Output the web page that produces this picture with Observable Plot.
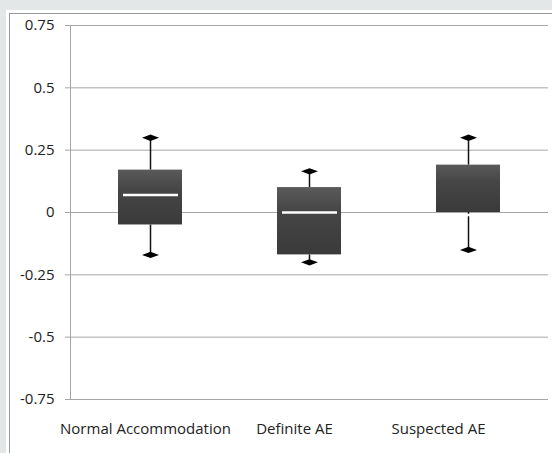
<!DOCTYPE html>
<html>
<head>
<meta charset="utf-8">
<script src="https://cdn.jsdelivr.net/npm/d3@7"></script>
<script src="https://cdn.jsdelivr.net/npm/@observablehq/plot@0.6"></script>
<style>
  html, body { margin: 0; padding: 0; background: #e3e7e7; width: 552px; height: 453px; overflow: hidden; }
  #outer { position: absolute; left: 6px; top: 10px; width: 546px; height: 443px; background: #ffffff; }
  #panel { position: absolute; left: 3px; top: 3px; width: 543px; height: 440px; border-left: 1px solid #9a9a9a; border-top: 1px solid #9a9a9a; box-sizing: border-box; background: #fff; }
  #panel svg { position: absolute; left: 0; top: 0; }
</style>
</head>
<body>
<div id="outer"><div id="panel"></div></div>
<script>
const categories = ["Normal Accommodation", "Definite AE", "Suspected AE"];
const whiskerMax = [0.30, 0.165, 0.30];
const q3 = [0.17, 0.10, 0.19];
const median = [0.07, 0.00, -0.01];
const q1 = [-0.05, -0.17, 0.00];
const whiskerMin = [-0.17, -0.20, -0.15];
const yTicks = [-0.75, -0.5, -0.25, 0, 0.25, 0.5, 0.75];
const labelShift = [-5, -15, -30];

const data = categories.map((c, i) => ({
  cat: c, max: whiskerMax[i], q3: q3[i], med: median[i], q1: q1[i], min: whiskerMin[i]
}));

const flatDiamond = {
  draw(context) {
    const w = 8.5, h = 3.2;
    context.moveTo(-w, 0);
    context.lineTo(0, -h);
    context.lineTo(w, 0);
    context.lineTo(0, h);
    context.closePath();
  }
};

const font = "'Open Sans', 'Noto Sans', sans-serif";

const chart = Plot.plot({
  width: 542,
  height: 440,
  marginTop: 11,
  marginBottom: 55,
  marginLeft: 60,
  marginRight: 4,
  style: { fontFamily: font, fontSize: "15px", color: "#222", background: "transparent" },
  x: { type: "band", domain: categories, paddingInner: 0.6, paddingOuter: 0.3, align: 0.5 },
  y: { domain: [-0.75, 0.75], ticks: yTicks },
  marks: [
    Plot.gridY(yTicks, { stroke: "#a6a6a6", strokeOpacity: 1, strokeWidth: 1, insetLeft: -5 }),
    Plot.frame({ anchor: "left", stroke: "#a6a6a6", strokeOpacity: 1, strokeWidth: 1 }),
    Plot.axisY(yTicks, { tickSize: 0, tickPadding: 16, tickFormat: d => String(d), fontSize: 15, fill: "#222" }),
    ...categories.map((c, i) => Plot.axisX({ ticks: [c], tickSize: 0, tickPadding: 24, dx: labelShift[i], fontSize: 15, fill: "#222", label: null })),
    Plot.ruleX(data, { x: "cat", y1: "q3", y2: "max", stroke: "#111", strokeWidth: 1.5 }),
    Plot.ruleX(data, { x: "cat", y1: "min", y2: "q1", stroke: "#111", strokeWidth: 1.5 }),
    Plot.barY(data, { x: "cat", y1: "q1", y2: "q3", fill: "url(#boxgrad)", ariaLabel: "box" }),
    Plot.tickY(data, { x: "cat", y: "med", stroke: "#ffffff", strokeWidth: 2.5, insetLeft: 5, insetRight: 4 }),
    Plot.dot(data, { x: "cat", y: "max", symbol: flatDiamond, fill: "#000", stroke: "none" }),
    Plot.dot(data, { x: "cat", y: "min", symbol: flatDiamond, fill: "#000", stroke: "none" })
  ]
});

const ns = "http://www.w3.org/2000/svg";
const defs = document.createElementNS(ns, "defs");
defs.innerHTML = `
  <linearGradient id="boxgrad" x1="0" y1="0" x2="0" y2="1">
    <stop offset="0" stop-color="#5a5a5a"/>
    <stop offset="0.35" stop-color="#464646"/>
    <stop offset="1" stop-color="#3a3a3a"/>
  </linearGradient>
  <filter id="boxshadow" x="-20%" y="-20%" width="140%" height="140%">
    <feDropShadow dx="0" dy="1" stdDeviation="1.6" flood-color="#000" flood-opacity="0.45"/>
  </filter>`;
chart.insertBefore(defs, chart.firstChild);
const boxG = chart.querySelector('g[aria-label="box"]');
if (boxG) boxG.setAttribute("filter", "url(#boxshadow)");

document.getElementById("panel").appendChild(chart);
</script>
</body>
</html>
